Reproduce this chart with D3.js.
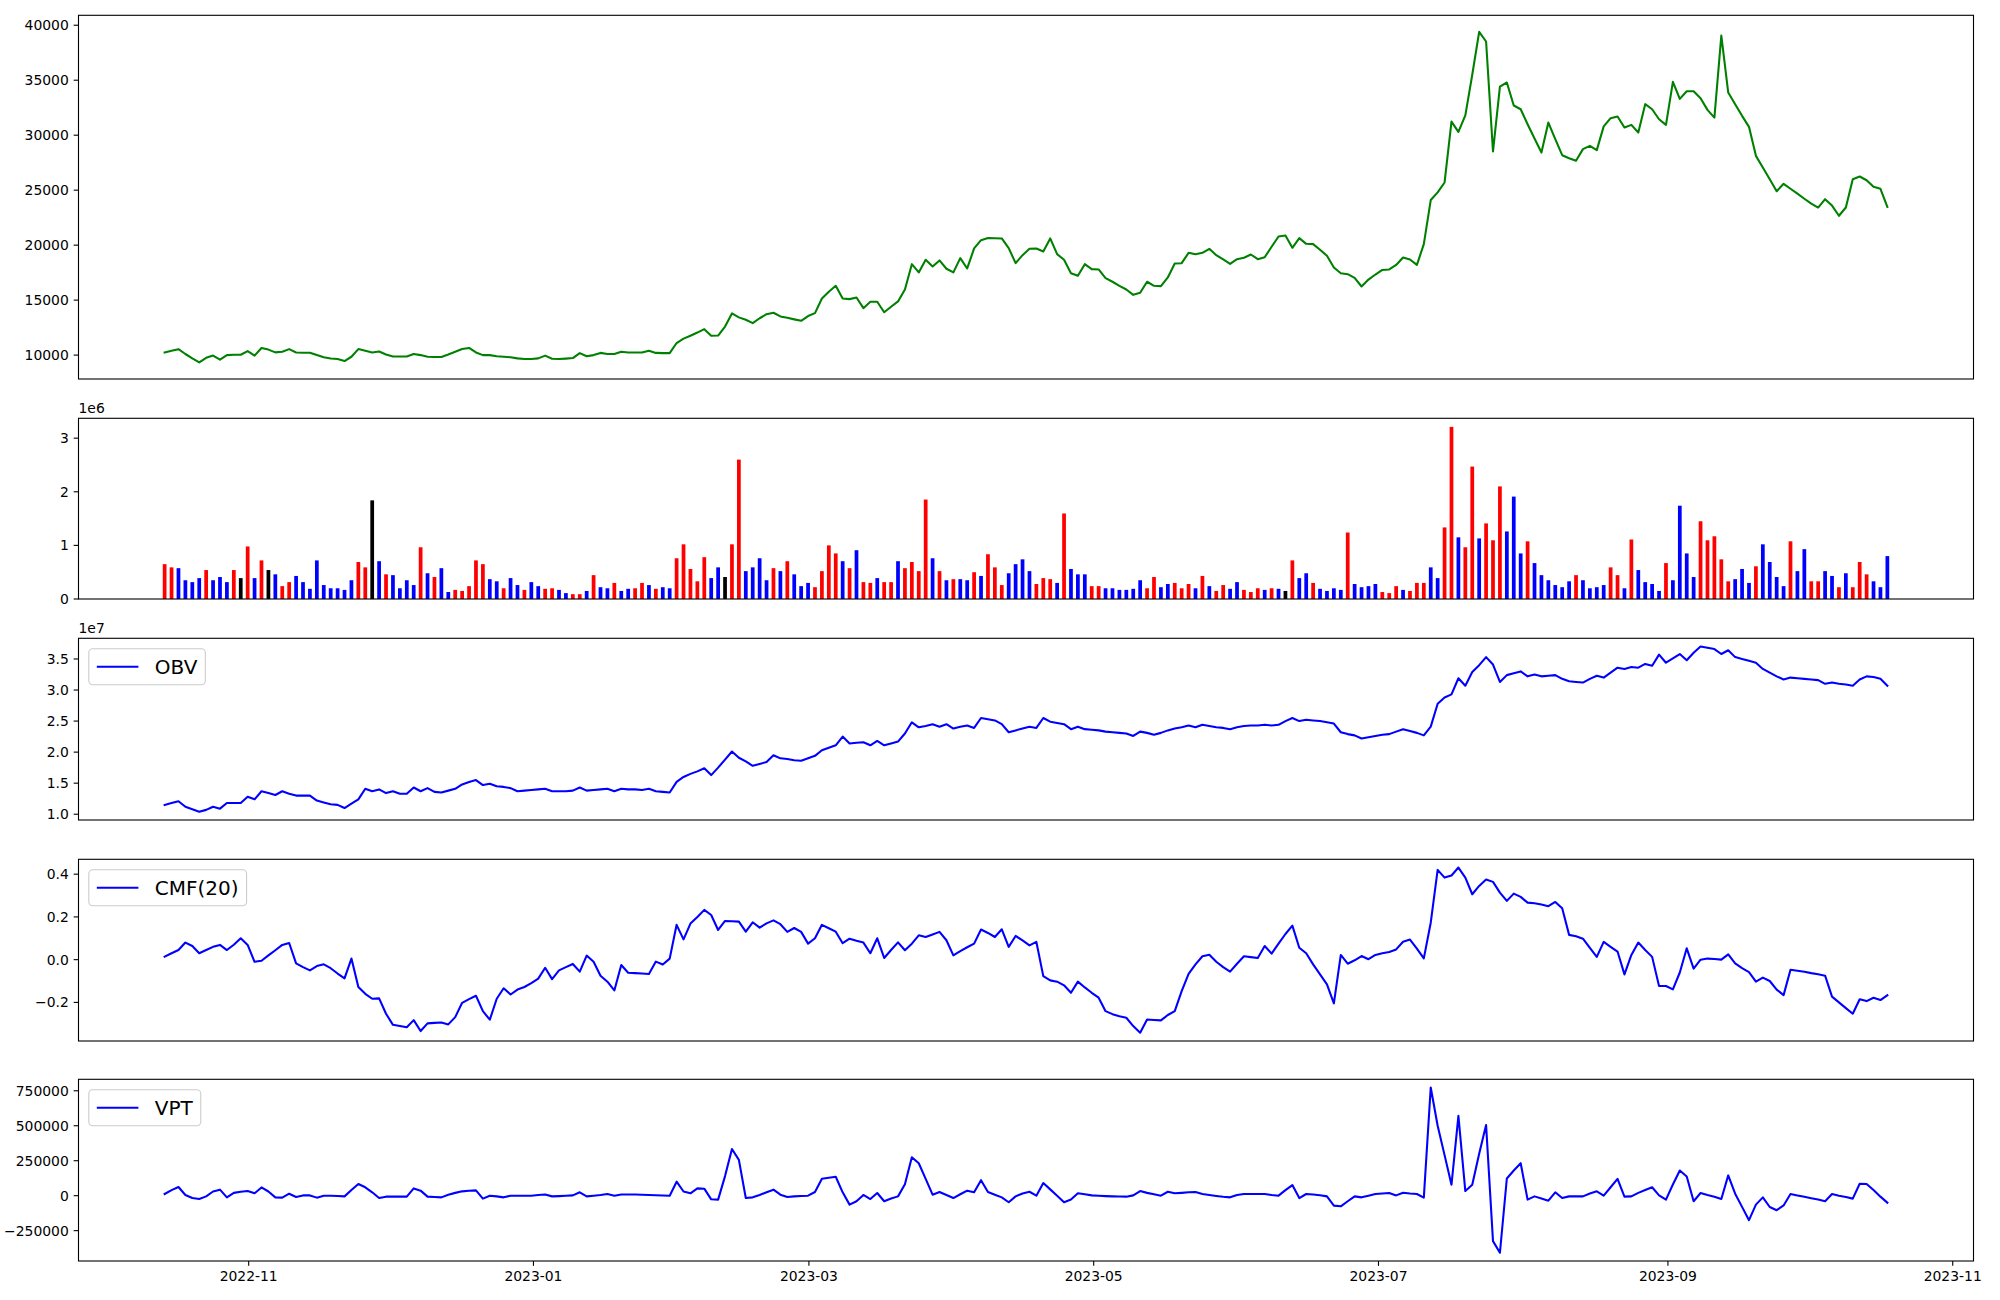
<!DOCTYPE html>
<html><head><meta charset="utf-8">
<script src="https://cdn.jsdelivr.net/npm/d3@7"></script>
<style>body{margin:0;background:#fff}text{font-family:"DejaVu Sans",sans-serif;fill:#000}</style>
</head><body><svg id="c" width="2000" height="1300"></svg>
<script>
// ---------------- DATA ----------------
const startDate = "2022-10-14", endDate = "2023-10-18";
const close = [
10240,10400,10540,10100,9700,9330,9750,9960,9580,10000,
10030,10030,10360,9950,10650,10500,10250,10300,10545,10240,
10220,10210,10000,9800,9690,9650,9460,9850,10545,10400,
10240,10330,10060,9880,9880,9880,10100,10000,9850,9830,
9820,10050,10300,10550,10650,10240,10000,10000,9900,9850,
9800,9700,9640,9650,9700,9950,9670,9640,9680,9730,
10180,9900,10000,10200,10100,10100,10300,10240,10240,10240,
10400,10200,10180,10180,11100,11500,11760,12050,12360,11760,
11780,12600,13790,13430,13210,12910,13350,13720,13850,13520,
13390,13250,13120,13550,13820,15150,15760,16300,15150,15090,
15240,14270,14850,14850,13900,14400,14880,15970,18270,17520,
18670,18060,18610,17850,17520,18820,17880,19700,20450,20640,
20620,20610,19730,18360,19090,19670,19700,19420,20610,19180,
18670,17450,17210,18270,17820,17790,17000,16670,16300,15970,
15480,15670,16670,16300,16270,17060,18330,18360,19300,19180,
19300,19670,19090,18700,18300,18720,18850,19150,18720,18900,
19850,20790,20880,19760,20640,20120,20090,19580,19030,17970,
17450,17360,17030,16240,16870,17330,17740,17790,18200,18880,
18700,18200,20090,24100,24800,25700,31240,30300,31800,35500,
39400,38520,28520,34420,34790,32700,32360,31000,29700,28420,
31150,29640,28180,27900,27670,28730,29030,28640,30800,31550,
31700,30700,30940,30240,32820,32360,31450,30940,34850,33300,
34000,34000,33360,32300,31600,39060,33880,32820,31760,30760,
28120,27060,26000,24900,25580,25130,24680,24220,23770,23420,
24180,23600,22670,23420,26000,26240,25900,25300,25120,23480];
const volume = [
650000,590000,575000,350000,315000,390000,540000,350000,410000,315000,
540000,390000,980000,390000,720000,540000,460000,240000,315000,430000,
315000,190000,720000,260000,200000,200000,170000,350000,690000,590000,
1840000,705000,460000,445000,200000,350000,260000,965000,480000,410000,
575000,130000,170000,150000,240000,720000,650000,370000,330000,200000,
390000,260000,170000,315000,240000,190000,200000,170000,110000,90000,
90000,150000,445000,220000,200000,300000,150000,190000,200000,300000,
260000,190000,220000,200000,760000,1020000,560000,330000,780000,390000,
590000,410000,1020000,2600000,520000,590000,760000,350000,575000,520000,
705000,460000,240000,300000,220000,520000,1000000,850000,705000,575000,
910000,315000,300000,390000,315000,315000,705000,575000,690000,520000,
1855000,760000,520000,350000,370000,370000,350000,500000,430000,835000,
590000,260000,480000,650000,740000,520000,280000,390000,370000,300000,
1595000,560000,460000,460000,240000,240000,200000,200000,170000,170000,
190000,350000,200000,410000,220000,280000,300000,200000,280000,200000,
430000,240000,150000,260000,190000,315000,170000,130000,200000,170000,
200000,190000,150000,720000,390000,480000,300000,190000,150000,200000,
170000,1240000,280000,220000,240000,280000,130000,110000,240000,170000,
150000,300000,300000,590000,390000,1335000,3210000,1150000,965000,2470000,
1130000,1410000,1095000,2100000,1260000,1910000,850000,1076000,670000,445000,
350000,260000,220000,330000,445000,350000,200000,220000,260000,590000,
445000,200000,1110000,540000,315000,280000,150000,670000,350000,1740000,
850000,410000,1450000,1095000,1170000,740000,330000,370000,560000,300000,
610000,1020000,690000,410000,240000,1076000,520000,930000,330000,330000,
520000,430000,220000,480000,220000,690000,460000,330000,220000,800000];
// 1 = up (red), -1 = down (blue), 0 = unchanged (black)
const volDir = [
1,1,-1,-1,-1,-1,1,-1,-1,-1, 1,0,1,-1,1,0,-1,1,1,-1,
-1,-1,-1,-1,-1,-1,-1,-1,1,1, 0,-1,1,-1,-1,-1,-1,1,-1,1,
-1,-1,1,1,1,1,1,-1,-1,1, -1,-1,1,-1,-1,1,1,-1,-1,1,
1,-1,1,-1,-1,1,-1,-1,1,1, -1,1,-1,-1,1,1,1,1,1,-1,
-1,0,1,1,-1,-1,-1,-1,1,-1, 1,-1,-1,-1,1,1,1,1,-1,1,
-1,1,1,-1,1,1,-1,1,1,1, 1,-1,1,-1,1,-1,-1,1,-1,1,
1,1,-1,-1,-1,-1,1,1,1,-1, 1,-1,-1,-1,1,1,-1,-1,-1,-1,
-1,-1,1,1,-1,-1,1,1,1,-1, 1,-1,1,1,-1,-1,1,1,1,-1,
1,-1,0,1,-1,-1,1,-1,-1,-1, -1,1,-1,-1,-1,-1,1,1,1,-1,
1,1,1,-1,-1,1,1,-1,1,1, -1,1,1,1,-1,-1,-1,1,-1,-1,
-1,-1,-1,-1,1,-1,-1,-1,-1,1, 1,-1,1,-1,-1,-1,-1,1,-1,-1,
-1,-1,1,1,1,1,1,-1,-1,-1, 1,-1,-1,-1,-1,1,-1,-1,1,1,
-1,-1,1,-1,1,1,1,-1,-1,-1];
const obv = [
1.15e7,1.18e7,1.21e7,1.12e7,1.08e7,1.04e7,1.07e7,1.12e7,1.09e7,1.18e7,
1.18e7,1.18e7,1.28e7,1.24e7,1.37e7,1.34e7,1.31e7,1.37e7,1.33e7,1.30e7,
1.30e7,1.30e7,1.22e7,1.19e7,1.16e7,1.15e7,1.10e7,1.17e7,1.24e7,1.41e7,
1.37e7,1.40e7,1.34e7,1.37e7,1.33e7,1.33e7,1.43e7,1.37e7,1.42e7,1.36e7,
1.35e7,1.38e7,1.41e7,1.48e7,1.52e7,1.55e7,1.47e7,1.49e7,1.45e7,1.44e7,
1.42e7,1.37e7,1.38e7,1.39e7,1.40e7,1.41e7,1.37e7,1.37e7,1.37e7,1.38e7,
1.43e7,1.38e7,1.39e7,1.40e7,1.41e7,1.37e7,1.41e7,1.40e7,1.40e7,1.39e7,
1.41e7,1.37e7,1.36e7,1.35e7,1.52e7,1.60e7,1.65e7,1.69e7,1.74e7,1.63e7,
1.75e7,1.88e7,2.01e7,1.91e7,1.85e7,1.78e7,1.81e7,1.84e7,1.95e7,1.90e7,
1.89e7,1.87e7,1.86e7,1.90e7,1.94e7,2.03e7,2.07e7,2.11e7,2.25e7,2.14e7,
2.15e7,2.16e7,2.11e7,2.18e7,2.11e7,2.14e7,2.17e7,2.30e7,2.48e7,2.40e7,
2.42e7,2.45e7,2.41e7,2.45e7,2.38e7,2.41e7,2.43e7,2.39e7,2.55e7,2.53e7,
2.51e7,2.45e7,2.32e7,2.35e7,2.38e7,2.41e7,2.39e7,2.55e7,2.49e7,2.47e7,
2.45e7,2.37e7,2.41e7,2.37e7,2.36e7,2.35e7,2.33e7,2.32e7,2.31e7,2.30e7,
2.26e7,2.33e7,2.31e7,2.28e7,2.31e7,2.35e7,2.38e7,2.40e7,2.43e7,2.40e7,
2.44e7,2.42e7,2.40e7,2.39e7,2.37e7,2.40e7,2.42e7,2.43e7,2.43e7,2.44e7,
2.43e7,2.44e7,2.50e7,2.55e7,2.50e7,2.52e7,2.51e7,2.50e7,2.48e7,2.46e7,
2.32e7,2.29e7,2.27e7,2.22e7,2.24e7,2.26e7,2.28e7,2.29e7,2.33e7,2.37e7,
2.34e7,2.31e7,2.27e7,2.41e7,2.78e7,2.88e7,2.93e7,3.19e7,3.07e7,3.29e7,
3.40e7,3.53e7,3.41e7,3.13e7,3.24e7,3.27e7,3.30e7,3.22e7,3.25e7,3.22e7,
3.23e7,3.24e7,3.18e7,3.14e7,3.13e7,3.12e7,3.18e7,3.23e7,3.20e7,3.28e7,
3.36e7,3.34e7,3.37e7,3.36e7,3.42e7,3.39e7,3.57e7,3.44e7,3.51e7,3.58e7,
3.48e7,3.60e7,3.70e7,3.68e7,3.66e7,3.58e7,3.64e7,3.53e7,3.50e7,3.47e7,
3.44e7,3.34e7,3.28e7,3.22e7,3.17e7,3.20e7,3.19e7,3.18e7,3.17e7,3.16e7,
3.10e7,3.12e7,3.10e7,3.09e7,3.07e7,3.17e7,3.22e7,3.21e7,3.18e7,3.07e7];
const cmf = [
0.014,0.030,0.045,0.080,0.064,0.030,0.045,0.060,0.069,0.045,
0.070,0.100,0.069,-0.010,-0.005,0.020,0.044,0.069,0.078,-0.017,
-0.035,-0.050,-0.030,-0.022,-0.040,-0.065,-0.088,0.005,-0.128,-0.160,
-0.183,-0.181,-0.253,-0.305,-0.310,-0.316,-0.283,-0.334,-0.298,-0.296,
-0.294,-0.303,-0.269,-0.202,-0.185,-0.169,-0.241,-0.281,-0.183,-0.134,
-0.163,-0.140,-0.128,-0.110,-0.089,-0.038,-0.091,-0.050,-0.035,-0.020,
-0.056,0.019,-0.010,-0.075,-0.103,-0.144,-0.025,-0.061,-0.063,-0.065,
-0.067,-0.009,-0.023,0.005,0.163,0.095,0.169,0.200,0.233,0.209,
0.139,0.181,0.180,0.178,0.131,0.175,0.150,0.170,0.184,0.166,
0.130,0.148,0.130,0.075,0.100,0.163,0.147,0.131,0.077,0.098,
0.088,0.080,0.030,0.100,0.008,0.045,0.081,0.044,0.075,0.114,
0.106,0.118,0.130,0.091,0.020,0.040,0.058,0.075,0.141,0.125,
0.106,0.142,0.060,0.111,0.090,0.067,0.083,-0.077,-0.097,-0.103,
-0.120,-0.155,-0.103,-0.130,-0.155,-0.178,-0.241,-0.255,-0.265,-0.272,
-0.311,-0.342,-0.280,-0.282,-0.284,-0.259,-0.241,-0.147,-0.066,-0.022,
0.016,0.023,-0.010,-0.035,-0.056,-0.019,0.016,0.012,0.008,0.064,
0.028,0.075,0.120,0.159,0.056,0.030,-0.022,-0.069,-0.116,-0.205,
0.022,-0.019,-0.003,0.017,0.002,0.022,0.030,0.036,0.048,0.084,
0.094,0.052,0.006,0.173,0.420,0.384,0.394,0.431,0.384,0.306,
0.345,0.375,0.364,0.314,0.275,0.309,0.294,0.267,0.264,0.258,
0.250,0.270,0.241,0.116,0.110,0.098,0.055,0.013,0.083,0.060,
0.038,-0.069,0.022,0.080,0.045,0.013,-0.123,-0.123,-0.139,-0.060,
0.053,-0.042,0.000,0.005,0.003,0.000,0.025,-0.017,-0.040,-0.058,
-0.103,-0.084,-0.100,-0.140,-0.166,-0.047,-0.052,-0.057,-0.063,-0.068,
-0.075,-0.173,-0.200,-0.227,-0.253,-0.185,-0.194,-0.178,-0.189,-0.166];
const vpt = [
12000,40000,62000,5000,-17000,-24000,-5000,30000,43000,-12000,
20000,28000,33000,17000,59000,30000,-12000,-14000,14000,-9000,
2000,2000,-14000,0,0,-2000,-5000,40000,83000,60000,
24000,-17000,-7000,-7000,-7000,-7000,52000,36000,-7000,-10000,
-12000,7000,20000,31000,35000,38000,-21000,0,-5000,-12000,
0,0,0,0,5000,9000,-5000,-3000,0,2000,
24000,-5000,0,5000,12000,0,9000,8000,8000,7000,
5000,3000,1000,0,100000,30000,17000,52000,50000,-26000,
-28000,140000,334000,256000,-17000,-12000,5000,25000,43000,7000,
-9000,-5000,-2000,0,26000,121000,128000,135000,24000,-64000,
-40000,5000,-24000,19000,-40000,-20000,-5000,81000,275000,232000,
120000,7000,26000,5000,-17000,10000,36000,24000,111000,26000,
7000,-12000,-47000,-5000,15000,28000,0,90000,45000,0,
-47000,-28000,17000,10000,2000,0,-3000,-5000,-6000,-7000,
2000,33000,20000,10000,0,28000,17000,20000,24000,26000,
12000,5000,-2000,-8000,-12000,5000,12000,12000,12000,12000,
5000,0,40000,76000,-17000,12000,8000,3000,-5000,-71000,
-76000,-40000,-5000,-12000,0,12000,15000,19000,2000,21000,
15000,12000,-14000,773000,500000,290000,78000,571000,33000,78000,
300000,505000,-325000,-408000,123000,180000,232000,-28000,-5000,-20000,
-36000,24000,-17000,-5000,-5000,-5000,15000,31000,0,60000,
120000,-7000,-5000,20000,40000,60000,2000,-28000,80000,180000,
137000,-40000,19000,5000,-7000,-24000,145000,14000,-80000,-175000,
-64000,-12000,-81000,-104000,-70000,12000,2000,-8000,-18000,-28000,
-40000,12000,0,-10000,-21000,85000,83000,40000,-7000,-50000];
const xTickLabels = ["2022-11","2023-01","2023-03","2023-05","2023-07","2023-09","2023-11"];
const priceTicks = [10000,15000,20000,25000,30000,35000,40000];
const volumeTicks = [0,1e6,2e6,3e6];
const obvTicks = [1.0e7,1.5e7,2.0e7,2.5e7,3.0e7,3.5e7];
const cmfTicks = [-0.2,0.0,0.2,0.4];
const vptTicks = [-250000,0,250000,500000,750000];
const legendLabels = ["OBV","CMF(20)","VPT"];

// ---------------- LAYOUT ----------------
const svg = d3.select("#c");
const X0 = 78.5, X1 = 1973.5;
const panels = [
  {top:15.3,  bottom:379},
  {top:418.3, bottom:599},
  {top:638.3, bottom:820},
  {top:859.3, bottom:1041},
  {top:1079.3,bottom:1261}
];
const TICK = 4.86, PAD = 4.86, FS = 13.9, LW = 2.08;
const N = close.length;
const t0 = d3.utcParse("%Y-%m-%d")(startDate).getTime();
const t1 = d3.utcParse("%Y-%m-%d")(endDate).getTime();
const step = (t1 - t0) / (N - 1);
const dates = d3.range(N).map(i => new Date(t0 + i * step));
const span = t1 - t0;
const x = d3.scaleUtc().domain([new Date(t0 - 0.05*span), new Date(t1 + 0.05*span)]).range([X0, X1]);
const DAY = 86400000;

function padded(arr){ const mn=d3.min(arr), mx=d3.max(arr), r=mx-mn; return [mn-0.05*r, mx+0.05*r]; }
const minus = s => s.replace(/-/g, "\u2212");

function yAxis(p, y, ticks, fmt){
  const g = svg.append("g");
  ticks.forEach(v => {
    const yy = y(v);
    g.append("line").attr("x1",X0-TICK).attr("x2",X0).attr("y1",yy).attr("y2",yy)
      .attr("stroke","#000").attr("stroke-width",1.1);
    g.append("text").attr("x",X0-TICK-PAD).attr("y",yy).attr("dy","0.36em")
      .attr("text-anchor","end").attr("font-size",FS).text(fmt(v));
  });
}
function frame(p){
  svg.append("rect").attr("x",X0).attr("y",p.top).attr("width",X1-X0).attr("height",p.bottom-p.top)
    .attr("fill","none").attr("stroke","#000").attr("stroke-width",1.1);
}
function linePlot(p, y, data, color){
  const line = d3.line().x((d,i)=>x(dates[i])).y(d=>y(d));
  svg.append("path").datum(data).attr("d",line).attr("fill","none")
    .attr("stroke",color).attr("stroke-width",LW).attr("stroke-linejoin","round").attr("stroke-linecap","square");
}
function legend(p, label){
  const g = svg.append("g");
  const bx = X0 + 10.3, by = p.top + 10.5, h = 36;
  const rect = g.append("rect").attr("x",bx).attr("y",by).attr("height",h).attr("rx",4)
    .attr("fill","#fff").attr("fill-opacity",0.8).attr("stroke","#cccccc").attr("stroke-width",1.1);
  g.append("line").attr("x1",bx+8).attr("x2",bx+49.6).attr("y1",by+h/2).attr("y2",by+h/2)
    .attr("stroke","blue").attr("stroke-width",LW);
  const t = g.append("text").attr("x",bx+66).attr("y",by+h/2).attr("dy","0.36em")
    .attr("font-size",20).text(label);
  const w = t.node().getComputedTextLength();
  rect.attr("width", 66 + w + 8);
}

// Panel 1: price
{
  const p = panels[0];
  const y = d3.scaleLinear().domain(padded(close)).range([p.bottom,p.top]);
  linePlot(p, y, close, "green");
  yAxis(p, y, priceTicks, d=>String(d));
  frame(p);
}
// Panel 2: volume bars
{
  const p = panels[1];
  const y = d3.scaleLinear().domain([0, d3.max(volume)*1.05]).range([p.bottom,p.top]);
  const bw = x(new Date(t0 + 0.8*DAY)) - x(new Date(t0));
  const col = d => d > 0 ? "red" : (d < 0 ? "blue" : "black");
  svg.append("g").selectAll("rect").data(volume).join("rect")
    .attr("x",(d,i)=>x(dates[i]) - bw/2).attr("width",bw)
    .attr("y",d=>y(d)).attr("height",d=>y(0)-y(d))
    .attr("fill",(d,i)=>col(volDir[i]));
  yAxis(p, y, volumeTicks, d=>String(d/1e6));
  svg.append("text").attr("x",X0).attr("y",p.top-5.5).attr("font-size",FS).text("1e6");
  frame(p);
}
// Panel 3: OBV
{
  const p = panels[2];
  const y = d3.scaleLinear().domain(padded(obv)).range([p.bottom,p.top]);
  linePlot(p, y, obv, "blue");
  yAxis(p, y, obvTicks, d=>(d/1e7).toFixed(1));
  svg.append("text").attr("x",X0).attr("y",p.top-5.5).attr("font-size",FS).text("1e7");
  frame(p);
  legend(p, legendLabels[0]);
}
// Panel 4: CMF
{
  const p = panels[3];
  const y = d3.scaleLinear().domain(padded(cmf)).range([p.bottom,p.top]);
  linePlot(p, y, cmf, "blue");
  yAxis(p, y, cmfTicks, d=>minus(d.toFixed(1)));
  frame(p);
  legend(p, legendLabels[1]);
}
// Panel 5: VPT + date axis
{
  const p = panels[4];
  const y = d3.scaleLinear().domain(padded(vpt)).range([p.bottom,p.top]);
  linePlot(p, y, vpt, "blue");
  yAxis(p, y, vptTicks, d=>minus(String(d)));
  frame(p);
  legend(p, legendLabels[2]);
  const parse = d3.utcParse("%Y-%m");
  const g = svg.append("g");
  xTickLabels.forEach(lbl => {
    const xx = x(parse(lbl));
    g.append("line").attr("x1",xx).attr("x2",xx).attr("y1",p.bottom).attr("y2",p.bottom+TICK)
      .attr("stroke","#000").attr("stroke-width",1.1);
    g.append("text").attr("x",xx).attr("y",p.bottom+TICK+PAD).attr("dy","0.76em")
      .attr("text-anchor","middle").attr("font-size",FS).text(lbl);
  });
}
</script></body></html>
